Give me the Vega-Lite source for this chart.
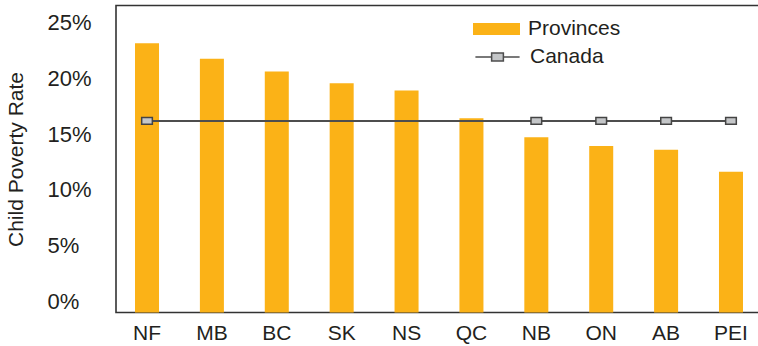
{
  "$schema": "https://vega.github.io/schema/vega-lite/v6.json",
  "width": 646,
  "height": 307,
  "autosize": "none",
  "padding": {"left": 116, "top": 5.5, "right": 0, "bottom": 33.5},
  "background": "white",
  "config": {
    "font": "Liberation Sans",
    "view": {"stroke": "#333333", "strokeWidth": 1.6}
  },
  "data": {
    "values": [
      {"province": "NF", "rate": 0.2318, "canada": 0.162},
      {"province": "MB", "rate": 0.2177, "canada": 0.162},
      {"province": "BC", "rate": 0.2063, "canada": 0.162},
      {"province": "SK", "rate": 0.1959, "canada": 0.162},
      {"province": "NS", "rate": 0.1892, "canada": 0.162},
      {"province": "QC", "rate": 0.1644, "canada": 0.162},
      {"province": "NB", "rate": 0.1473, "canada": 0.162},
      {"province": "ON", "rate": 0.1395, "canada": 0.162},
      {"province": "AB", "rate": 0.1362, "canada": 0.162},
      {"province": "PEI", "rate": 0.1164, "canada": 0.162}
    ]
  },
  "encoding": {
    "x": {
      "field": "province",
      "type": "nominal",
      "sort": null,
      "scale": {"paddingInner": 0.63, "paddingOuter": 0.293},
      "axis": {
        "title": null,
        "labelAngle": 0,
        "ticks": false,
        "domain": false,
        "labelFont": "Liberation Sans",
        "labelFontSize": 21,
        "labelColor": "#231F20",
        "labelPadding": 10
      }
    }
  },
  "layer": [
    {
      "mark": {"type": "bar"},
      "encoding": {
        "y": {
          "field": "rate",
          "type": "quantitative",
          "scale": {"domain": [-0.01, 0.2656], "nice": false, "zero": false},
          "axis": {
            "title": "Child Poverty Rate",
            "values": [0, 0.05, 0.1, 0.15, 0.2, 0.25],
            "format": ".0%",
            "ticks": false,
            "domain": false,
            "grid": false,
            "labelFont": "Liberation Sans",
            "labelFontSize": 22,
            "labelColor": "#231F20",
            "labelAlign": "left",
            "labelPadding": 69,
            "titleFont": "Liberation Sans",
            "titleFontSize": 21,
            "titleFontWeight": "normal",
            "titleColor": "#231F20",
            "titlePadding": 21
          }
        },
        "y2": {"datum": -0.01},
        "fill": {
          "datum": "Provinces",
          "scale": {"domain": ["Provinces"], "range": ["#FBB217"]},
          "legend": {
            "orient": "none",
            "legendX": 357,
            "legendY": 0,
            "title": null,
            "symbolType": "M-1,-0.26H1V0.26H-1Z",
            "symbolSize": 2209,
            "symbolStrokeWidth": 0,
            "labelFont": "Liberation Sans",
            "labelFontSize": 21,
            "labelColor": "#231F20",
            "labelOffset": 8
          }
        }
      }
    },
    {
      "mark": {"type": "line", "strokeWidth": 2},
      "encoding": {
        "y": {
          "field": "canada",
          "type": "quantitative",
          "axis": {"title": "Child Poverty Rate"}
        },
        "stroke": {
          "datum": "Canada",
          "scale": {"domain": ["Canada"], "range": ["#4D4D4D"]},
          "legend": {
            "orient": "none",
            "legendX": 357,
            "legendY": 27,
            "title": null,
            "symbolType": "M-0.94,0H-0.25M0.25,0H0.94M-0.25,-0.165H0.25V0.165H-0.25Z",
            "symbolSize": 2209,
            "symbolFillColor": "#C4C6C8",
            "symbolStrokeWidth": 1.5,
            "labelFont": "Liberation Sans",
            "labelFontSize": 21,
            "labelColor": "#231F20",
            "labelOffset": 8
          }
        }
      }
    },
    {
      "transform": [{"filter": {"field": "province", "oneOf": ["NF", "NB", "ON", "AB", "PEI"]}}],
      "mark": {
        "type": "point",
        "shape": "M-1,-0.62H1V0.62H-1Z",
        "size": 114,
        "filled": true,
        "fill": "#C4C6C8",
        "stroke": "#444444",
        "strokeWidth": 1.5,
        "opacity": 1
      },
      "encoding": {
        "y": {
          "field": "canada",
          "type": "quantitative",
          "axis": {"title": "Child Poverty Rate"}
        }
      }
    }
  ]
}
